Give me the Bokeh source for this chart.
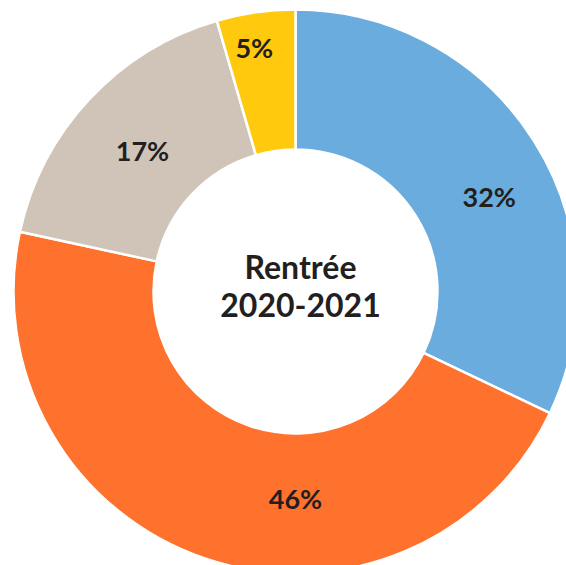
import math
from bokeh.plotting import figure
from bokeh.models import Range1d, ColumnDataSource
from bokeh.core.properties import value
from bokeh.embed import file_html
from bokeh.resources import INLINE

# ---- data ----
categories = ["A", "B", "C", "D"]
shares = [32.1, 46.3, 17.1, 4.5]
labels = ["32%", "46%", "17%", "5%"]
colors = ["#6AACDE", "#FF722D", "#D0C4B9", "#FFC90E"]
center_title = ["Rentrée", "2020-2021"]

# ---- layout settings ----
W, H = 566, 565
CX, CY = 295, 291          # centre of the ring, px from top-left of the figure
R_OUT, R_IN = 282, 142
label_shift_deg = [6.0, -18.9, -0.4, -1.5]   # label placement tweaks
label_radius = [216, 207, 208, 247]
FONT = "Lato"
INK = "#231F20"

p = figure(width=W, height=H, output_backend="svg", toolbar_location=None,
           x_range=Range1d(-CX, W - CX), y_range=Range1d(-(H - CY), CY),
           min_border=0, outline_line_color=None, background_fill_color="white",
           border_fill_color="white")
p.axis.visible = False
p.grid.visible = False

total = sum(shares)
starts, ends, lx, ly = [], [], [], []
cum = 0.0
for i, s in enumerate(shares):
    f0 = cum / total
    f1 = (cum + s) / total
    cum += s
    # clockwise from 12 o'clock -> bokeh angles (anticlockwise from +x)
    starts.append(math.pi / 2 - f1 * 2 * math.pi)
    ends.append(math.pi / 2 - f0 * 2 * math.pi)
    mid_cw = (f0 + f1) / 2 * 360 + label_shift_deg[i]
    a = math.radians(90 - mid_cw)
    lx.append(label_radius[i] * math.cos(a))
    ly.append(label_radius[i] * math.sin(a))

src = ColumnDataSource(dict(cat=categories, start=starts, end=ends, color=colors,
                            label=labels, lx=lx, ly=ly))

p.annular_wedge(x=0, y=0, inner_radius=R_IN, outer_radius=R_OUT,
                start_angle="start", end_angle="end", fill_color="color",
                line_color="white", line_width=2.5, source=src)

p.text(x="lx", y="ly", text="label", source=src, text_align="center",
       text_baseline="middle", text_font=value(FONT), text_font_style="bold",
       text_font_size="27px", text_color=INK)

p.text(x=[5, 5], y=[25, -13], text=center_title, text_align="center",
       text_baseline="middle", text_font=value(FONT), text_font_style="bold",
       text_font_size="32px", text_color=INK)

open("out.html", "w").write(file_html(p, INLINE))
